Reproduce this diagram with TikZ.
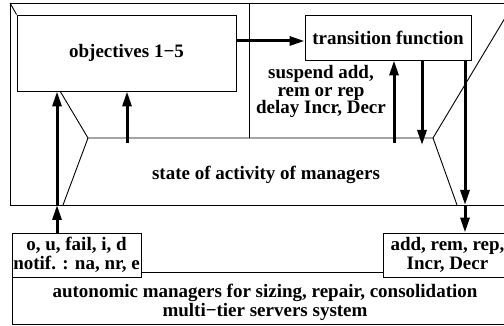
\documentclass[tikz,border=0pt]{standalone}
\usepackage{fontspec}
\setmainfont{Liberation Serif}
\usepackage{tikz}
\usetikzlibrary{arrows.meta,calc}

\tikzset{
  box/.style={draw=black,fill=white,line width=0.9pt,inner sep=0pt,align=center},
  flow/.style={line width=3pt,-{Triangle[length=15pt,width=9pt]}},
  frame/.style={line width=0.9pt},
}

\begin{document}
\begin{tikzpicture}[x=1pt,y=-1pt,font=\fontsize{19}{19}\selectfont\bfseries]
\useasboundingbox (0,0) rectangle (504,326);
\clip (0,0) rectangle (504,326);
% the frames
\draw[frame] (10,3) rectangle (514,205);
\draw[frame] (12,272) rectangle (514,324);
\draw[frame] (249,3) -- (249,138);
\node[box,minimum width=219,minimum height=76] (obj) at (126.5,53) {objectives 1−5};
\node[box,minimum width=166,minimum height=45] (trans) at (388,37.5) {transition function};
\node[box,minimum width=129,minimum height=44] (obs) at (76.5,255) {o, u, fail, i, d\\notif. : na, nr, e};
\node[box,minimum width=129,minimum height=44] (act) at (447.5,255) {add, rem, rep,\\Incr, Decr};
% the state of activity
\draw[frame] (10,3) -- (obj.north west);
\draw[frame] (60,91) -- (88,138) -- (433,138) -- (514,3);
\draw[frame] (88,138) -- (63,205);
\draw[frame] (433,138) -- (457,205);
\node (state) at (266,175) {state of activity of managers};
\node[align=center,font=\fontsize{19}{17.5}\selectfont\bfseries] (susp) at (321,91.5) {suspend add,\\rem or rep\\delay Incr, Decr};
\node[align=center] (ams) at (265,302.5) {autonomic managers for sizing, repair, consolidation\\multi−tier servers system};
% the arrows
\coordinate (in1) at (57,205);
\coordinate (st1) at (127,143);
\coordinate (st2) at (394,143);
\coordinate (st3) at (422,145);
\coordinate (out1) at (465,205);
\coordinate (o1) at ([yshift=12pt]obj.east);
\draw[flow] (in1 |- obs.north) -- (in1);
\draw[flow] (in1) -- (in1 |- obj.south);
\draw[flow] (st1) -- (st1 |- obj.south);
\draw[flow] (o1) -- (o1 -| trans.west);
\draw[flow] (st2) -- (st2 |- trans.south);
\draw[flow] (st3 |- trans.south) -- (st3);
\draw[flow] (out1 |- trans.south) -- (out1);
\draw[flow] (out1) -- (out1 |- act.north);
\end{tikzpicture}
\end{document}
